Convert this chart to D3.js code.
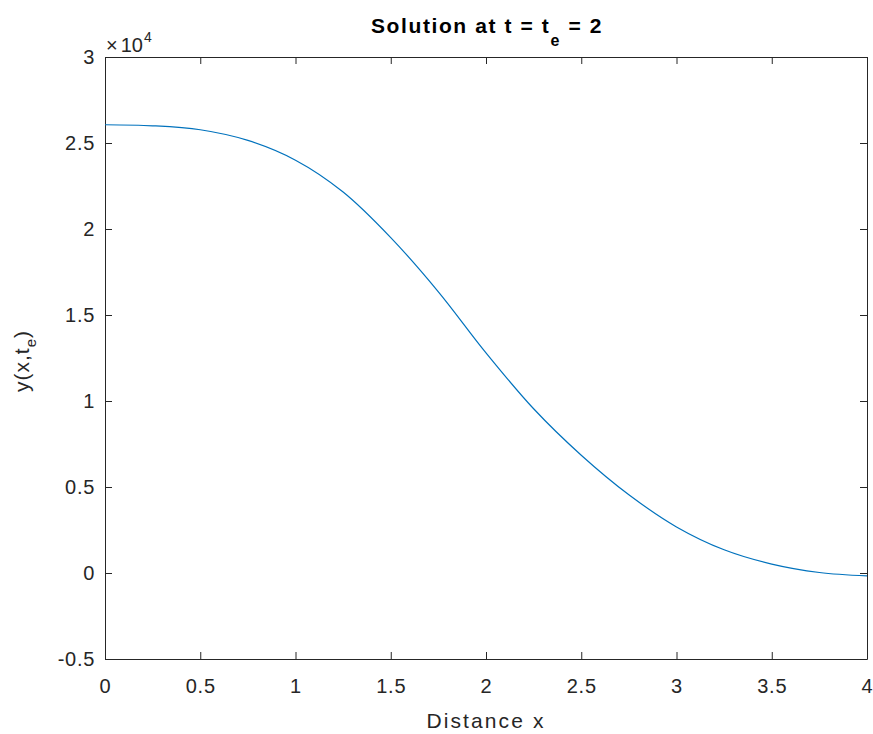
<!DOCTYPE html>
<html>
<head>
<meta charset="utf-8">
<script src="https://cdn.jsdelivr.net/npm/d3@7"></script>
<style>
  body { margin: 0; background: #fff; }
  svg { display: block; font-family: "Liberation Sans", Arial, sans-serif; }
  .tick text { fill: #262626; font-size: 20px; letter-spacing: 0.7px; }
  .tick line, .domain { stroke: #262626; }
</style>
</head>
<body>
<script>
// solution y(x, t_e) (raw values, axis shows x10^4)
var distance = [0, 0.25, 0.5, 0.75, 1.0, 1.25, 1.5, 1.75, 2.0, 2.25, 2.5, 2.75, 3.0, 3.25, 3.5, 3.75, 4.0];
var solution = [26060, 26000, 25770, 25150, 24000, 22150, 19500, 16350, 12800, 9550, 6850, 4550, 2680, 1350, 520, 30, -170];

var xTicks = [0, 0.5, 1, 1.5, 2, 2.5, 3, 3.5, 4];
var yTicks = [-5000, 0, 5000, 10000, 15000, 20000, 25000, 30000];

var width = 873, height = 734;
var margin = { top: 57, right: 6, bottom: 75, left: 105 };
var w = width - margin.left - margin.right;
var h = height - margin.top - margin.bottom;

var svg = d3.select("body")
  .append("svg")
  .attr("width", width)
  .attr("height", height);

var g = svg.append("g")
  .attr("transform", "translate(" + margin.left + "," + margin.top + ")");

var x = d3.scaleLinear().domain([0, 4]).range([0, w]);
var y = d3.scaleLinear().domain([-5000, 30000]).range([h, 0]);

var tickLen = 7;

g.append("g")
  .attr("transform", "translate(0," + h + ")")
  .call(d3.axisBottom(x).tickValues(xTicks).tickSize(-tickLen).tickSizeOuter(0).tickPadding(20)
    .tickFormat(function(d) { return String(d); }));

g.append("g")
  .call(d3.axisLeft(y).tickValues(yTicks).tickSize(-tickLen).tickSizeOuter(0).tickPadding(10)
    .tickFormat(function(d) { return String(d / 1e4); }));

g.append("g")
  .call(d3.axisTop(x).tickValues(xTicks).tickSize(-tickLen).tickSizeOuter(0).tickFormat(""));

g.append("g")
  .attr("transform", "translate(" + w + ",0)")
  .call(d3.axisRight(y).tickValues(yTicks).tickSize(-tickLen).tickSizeOuter(0).tickFormat(""));

var line = d3.line()
  .x(function(d, i) { return x(distance[i]); })
  .y(function(d) { return y(d); })
  .curve(d3.curveCatmullRom);

g.append("path")
  .datum(solution)
  .attr("fill", "none")
  .attr("stroke", "#0072BD")
  .attr("stroke-width", 1.2)
  .attr("d", line);

// exponent marker
var expo = svg.append("text")
  .attr("x", 106)
  .attr("y", 52)
  .attr("fill", "#262626")
  .attr("font-size", 20);
expo.append("tspan").text("\u00d7");
expo.append("tspan").attr("dx", 3).text("10");
expo.append("tspan").attr("font-size", 14).attr("dy", -10).attr("dx", 1).text("4");

// title
var title = svg.append("text")
  .attr("x", 487)
  .attr("y", 33)
  .attr("text-anchor", "middle")
  .attr("font-weight", "bold")
  .attr("font-size", 21)
  .attr("fill", "#000")
  .attr("letter-spacing", 1.6);
title.append("tspan").text("Solution at t = t");
title.append("tspan").attr("font-size", 16).attr("dy", 13).text("e");
title.append("tspan").attr("dy", -13).text(" = 2");

// x label
svg.append("text")
  .attr("x", 486)
  .attr("y", 728)
  .attr("text-anchor", "middle")
  .attr("font-size", 21)
  .attr("fill", "#262626")
  .attr("letter-spacing", 2.1)
  .text("Distance x");

// y label
var ylab = svg.append("text")
  .attr("transform", "translate(29,361) rotate(-90)")
  .attr("text-anchor", "middle")
  .attr("font-size", 21)
  .attr("fill", "#262626")
  .attr("letter-spacing", 1);
ylab.append("tspan").text("y(x,t");
ylab.append("tspan").attr("font-size", 15).attr("dy", 7).text("e");
ylab.append("tspan").attr("dy", -7).text(")");
</script>
</body>
</html>
